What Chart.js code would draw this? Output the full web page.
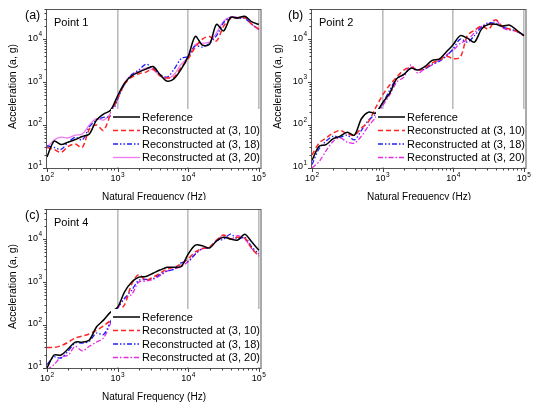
<!DOCTYPE html>
<html>
<head>
<meta charset="utf-8">
<title>Acceleration spectra</title>
<script src="https://cdn.jsdelivr.net/npm/chart.js@4.4.0/dist/chart.umd.min.js"></script>
<style>
    body { margin: 0; background: #fff; width: 539px; height: 406px; position: relative; overflow: hidden; }
    canvas { position: absolute; display: block; }
</style>
</head>
<body>
<canvas id="chartA" width="270" height="200" style="left:0;top:0"></canvas>
<canvas id="chartB" width="269" height="200" style="left:270px;top:0"></canvas>
<canvas id="chartC" width="270" height="206" style="left:0;top:200px"></canvas>
<script>
// natural frequencies (Hz), one every 0.1 decade
const freqs = [100, 126, 158, 200, 251, 316, 398, 501, 631, 794,
    1000, 1259, 1585, 1995, 2512, 3162, 3981, 5012, 6310, 7943,
    10000, 12589, 15849, 19953, 25119, 31623, 39811, 50119, 63096, 79433, 100000];

const xTickPowers = [2, 3, 4, 5];
const yTickPowers = [1, 2, 3, 4];

const seriesLabels = ['Reference', 'Reconstructed at (3, 10)', 'Reconstructed at (3, 18)', 'Reconstructed at (3, 20)'];

// Point 1
const point1Reference = [18, 42, 35, 40, 46, 54, 62, 130, 180, 220, 480, 950, 1400, 1700, 2000, 2300, 1500, 1050, 1200, 2000, 4000, 11500, 7200, 7500, 22000, 15500, 32000, 31000, 34000, 25000, 22000];
const point1Recon10 = [30, 27, 23, 32, 36, 30, 80, 100, 75, 180, 420, 900, 1300, 1550, 1700, 2000, 1400, 1250, 1300, 2200, 3500, 6500, 10000, 11500, 9000, 20000, 30000, 31000, 32000, 22000, 17000];
const point1Recon18 = [33, 30, 27, 40, 52, 45, 90, 130, 150, 160, 400, 900, 1500, 1900, 2600, 2100, 1500, 1300, 2000, 3500, 4000, 7000, 6500, 8000, 12000, 24000, 32000, 30000, 30000, 22000, 17000];
const point1Recon20 = [30, 45, 52, 50, 58, 62, 100, 140, 130, 190, 420, 950, 1500, 1750, 2100, 1900, 1400, 1200, 1500, 2600, 3800, 7500, 8000, 8500, 14000, 26000, 33000, 32000, 31000, 22000, 16000];

// Point 2
const point2Reference = [15, 32, 35, 48, 55, 68, 58, 140, 200, 190, 330, 550, 1200, 1500, 2100, 1900, 2300, 3200, 3400, 5000, 7500, 12000, 10500, 8500, 17000, 22000, 22000, 20000, 21000, 16000, 12000];
const point2Recon10 = [20, 38, 50, 65, 75, 62, 58, 85, 120, 250, 500, 850, 1300, 1900, 2200, 1900, 2100, 2800, 3200, 4000, 3500, 3800, 12000, 16000, 20000, 17000, 28000, 19000, 17000, 15000, 12000];
const point2Recon18 = [12, 28, 42, 55, 52, 58, 45, 75, 130, 180, 320, 650, 1200, 1500, 2100, 1900, 2000, 2600, 3000, 4000, 6000, 10000, 8500, 12000, 19000, 24000, 23000, 19000, 17000, 15000, 12000];
const point2Recon20 = [10, 14, 25, 42, 50, 40, 38, 55, 95, 150, 280, 500, 1000, 1300, 2500, 1600, 2100, 2500, 3200, 4200, 5500, 8000, 9500, 14000, 20000, 22000, 28000, 18000, 16000, 15000, 12000];

// Point 4
const point4Reference = [10, 20, 20, 28, 40, 40, 45, 90, 130, 200, 260, 600, 1000, 1300, 1350, 1600, 1900, 2200, 2200, 2300, 4500, 7200, 7000, 6200, 9000, 11000, 10000, 9500, 13000, 8500, 5500];
const point4Recon10 = [30, 30, 33, 40, 50, 55, 62, 75, 95, 130, 200, 300, 900, 1500, 1100, 1300, 1600, 2000, 2200, 2600, 3500, 5000, 6000, 6500, 9500, 12500, 10000, 11000, 10500, 6000, 4000];
const point4Recon18 = [12, 18, 17, 25, 38, 38, 42, 65, 60, 120, 250, 420, 650, 1100, 1150, 1200, 1500, 1800, 2000, 2800, 3000, 4500, 6000, 6200, 9000, 10000, 13000, 10000, 11000, 6500, 4500];
const point4Recon20 = [9, 12, 18, 20, 32, 25, 32, 40, 50, 110, 240, 420, 520, 1000, 1050, 1150, 1400, 1800, 2000, 2300, 3000, 4500, 6000, 6300, 9000, 12000, 10000, 12000, 10000, 6000, 4000];

const FONT = '"Liberation Sans", Arial, sans-serif';

function isDecade(v) {
    const l = Math.log10(v);
    return Math.abs(l - Math.round(l)) < 1e-6;
}

// "10" with a raised exponent
function drawPower(ctx, exp, x, y, align) {
    ctx.font = '9px ' + FONT;
    const wBase = ctx.measureText('10').width;
    ctx.font = '6.5px ' + FONT;
    const wExp = ctx.measureText(String(exp)).width;
    const total = wBase + wExp + 0.5;
    const x0 = align === 'right' ? x - total : x - total / 2;
    ctx.textAlign = 'left';
    ctx.textBaseline = 'middle';
    ctx.font = '9px ' + FONT;
    ctx.fillText('10', x0, y);
    ctx.font = '6.5px ' + FONT;
    ctx.fillText(String(exp), x0 + wBase + 0.5, y - 4);
}

const decorPlugin = {
    id: 'decor',
    afterDatasetsDraw(chart, args, opts) {
        const ctx = chart.ctx;
        const { left, right, top, bottom } = chart.chartArea;
        const xs = chart.scales.x;
        const ys = chart.scales.y;
        ctx.save();

        // legend with white box
        ctx.fillStyle = '#fff';
        ctx.fillRect(right - 150, bottom - 59, 149, 58);
        chart.data.datasets.forEach((ds, i) => {
            const y = bottom - 51 + i * 13.5;
            ctx.strokeStyle = ds.borderColor;
            ctx.lineWidth = ds.borderWidth;
            ctx.setLineDash(ds.borderDash || []);
            ctx.beginPath();
            ctx.moveTo(right - 148, y);
            ctx.lineTo(right - 121, y);
            ctx.stroke();
            ctx.setLineDash([]);
            ctx.fillStyle = '#000';
            ctx.font = '11px ' + FONT;
            ctx.textAlign = 'left';
            ctx.textBaseline = 'middle';
            ctx.fillText(ds.label, right - 119, y + 0.5);
        });

        // frame
        ctx.strokeStyle = '#555';
        ctx.lineWidth = 1;
        ctx.strokeRect(left - 0.5, top + 0.5, right - left + 0.5, bottom - top);

        // outward ticks
        ctx.strokeStyle = '#444';
        ctx.beginPath();
        for (let d = 2; d <= 5; d++) {
            for (let m = 1; m <= 9; m++) {
                const v = m * Math.pow(10, d);
                if (v < xs.min || v > xs.max) continue;
                const px = Math.round(xs.getPixelForValue(v)) + 0.5;
                ctx.moveTo(px, bottom);
                ctx.lineTo(px, bottom + (m === 1 ? 4 : 2.5));
            }
        }
        for (let d = 1; d <= 4; d++) {
            for (let m = 1; m <= 9; m++) {
                const v = m * Math.pow(10, d);
                if (v < ys.min || v > ys.max) continue;
                const py = Math.round(ys.getPixelForValue(v)) + 0.5;
                ctx.moveTo(left, py);
                ctx.lineTo(left - (m === 1 ? 4 : 2.5), py);
            }
        }
        ctx.stroke();

        // tick labels
        ctx.fillStyle = '#000';
        xTickPowers.forEach(p => drawPower(ctx, p, xs.getPixelForValue(Math.pow(10, p)), bottom + 11, 'center'));
        yTickPowers.forEach(p => drawPower(ctx, p, left - 5, ys.getPixelForValue(Math.pow(10, p)) - 1, 'right'));

        // axis titles
        ctx.textAlign = 'center';
        ctx.textBaseline = 'middle';
        ctx.font = '10px ' + FONT;
        ctx.fillText('Natural Frequency (Hz)', (left + right) / 2, bottom + 29);
        ctx.save();
        ctx.translate(opts.yTitleX, (top + bottom) / 2 - 2);
        ctx.rotate(-Math.PI / 2);
        ctx.font = '10.5px ' + FONT;
        ctx.fillText('Acceleration (a, g)', 0, 0);
        ctx.restore();

        // panel tag and point name
        ctx.textAlign = 'left';
        ctx.font = '12.5px ' + FONT;
        ctx.fillText(opts.tag, opts.tagX, top + 7);
        ctx.font = '11px ' + FONT;
        ctx.fillText(opts.point, left + 7, top + 14);

        ctx.restore();
    }
};

function buildDatasets(values, style20) {
    const styles = [
        { color: '#000000', dash: [], width: 1.5 },
        { color: '#ff2424', dash: [5, 3], width: 1.5 },
        { color: '#1f1fff', dash: [5, 2, 1.5, 2, 1.5, 2], width: 1.3 },
        style20
    ];
    return values.map((arr, i) => ({
        label: seriesLabels[i],
        data: freqs.map((f, k) => ({ x: f, y: arr[k] })),
        borderColor: styles[i].color,
        borderDash: styles[i].dash,
        borderWidth: styles[i].width,
        pointRadius: 0,
        tension: 0.3,
        fill: false
    }));
}

function createPanel(id, values, style20, deco, sizes) {
    const ctx = document.getElementById(id).getContext('2d');
    return new Chart(ctx, {
        type: 'line',
        data: { datasets: buildDatasets(values, style20) },
        options: {
            responsive: false,
            animation: false,
            devicePixelRatio: 1,
            layout: { padding: { top: 9, right: sizes.right, left: 0, bottom: 0 } },
            plugins: {
                legend: { display: false },
                tooltip: { enabled: false },
                decor: deco
            },
            scales: {
                x: {
                    type: 'logarithmic',
                    min: 100,
                    max: 107000,
                    ticks: { display: false, autoSkip: false },
                    border: { display: false },
                    grid: {
                        drawTicks: false,
                        lineWidth: 1.6,
                        color: c => (c.tick && isDecade(c.tick.value) && c.tick.value > 100) ? '#bcbcbc' : 'rgba(0,0,0,0)'
                    },
                    afterFit: s => { s.height = sizes.xHeight; }
                },
                y: {
                    type: 'logarithmic',
                    min: 10,
                    max: 50000,
                    ticks: { display: false },
                    border: { display: false },
                    grid: { display: false },
                    afterFit: s => { s.width = sizes.yWidth; }
                }
            }
        },
        plugins: [decorPlugin]
    });
}

document.addEventListener('DOMContentLoaded', function () {
    const solidViolet = { color: '#f07af0', dash: [], width: 1.3 };
    const dashMagenta = { color: '#e62ae6', dash: [5, 2, 1.5, 2], width: 1.3 };

    createPanel('chartA', [point1Reference, point1Recon10, point1Recon18, point1Recon20], solidViolet,
        { tag: '(a)', tagX: 25, point: 'Point 1', yTitleX: 13 },
        { right: 9, xHeight: 32, yWidth: 47 });

    createPanel('chartB', [point2Reference, point2Recon10, point2Recon18, point2Recon20], dashMagenta,
        { tag: '(b)', tagX: 18, point: 'Point 2', yTitleX: 8 },
        { right: 13, xHeight: 32, yWidth: 42 });

    createPanel('chartC', [point4Reference, point4Recon10, point4Recon18, point4Recon20], dashMagenta,
        { tag: '(c)', tagX: 25, point: 'Point 4', yTitleX: 13 },
        { right: 9, xHeight: 38, yWidth: 47 });
});
</script>
</body>
</html>
